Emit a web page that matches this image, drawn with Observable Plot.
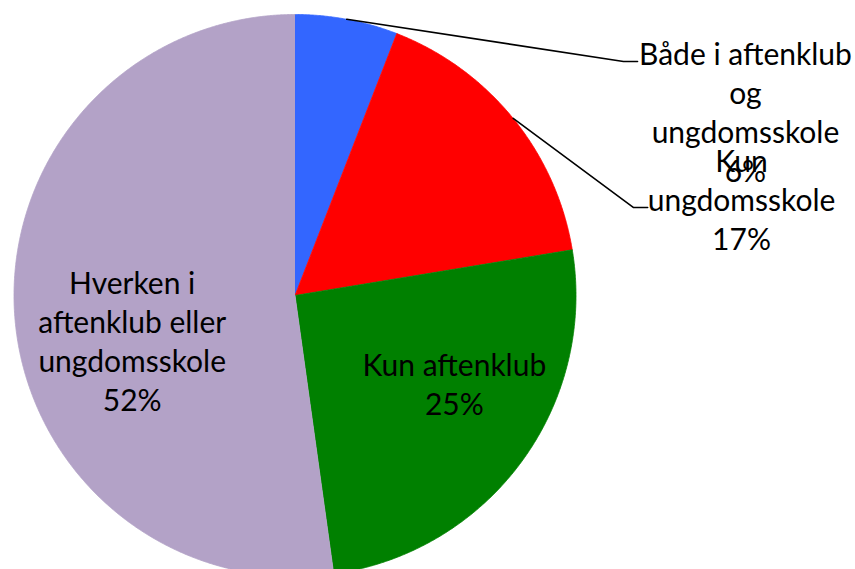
<!DOCTYPE html>
<html><head><meta charset="utf-8">
<script src="https://cdn.jsdelivr.net/npm/d3@7"></script>
<script src="https://cdn.jsdelivr.net/npm/@observablehq/plot@0.6"></script>
<style>html,body{margin:0;padding:0;background:#fff;overflow:hidden}</style>
</head><body><div id="chart"></div>
<script>
// ---- data ----
const categories = [
  "Både i aftenklub og ungdomsskole",
  "Kun ungdomsskole",
  "Kun aftenklub",
  "Hverken i aftenklub eller ungdomsskole"
];
const labelText = [
  "Både i aftenklub\nog\nungdomsskole",
  "Kun\nungdomsskole",
  "Kun aftenklub",
  "Hverken i\naftenklub eller\nungdomsskole"
];
const values = [5.9, 16.5, 25.4, 52.2];
const percentLabels = ["6%", "17%", "25%", "52%"];
const colors = ["#3366FF", "#FF0000", "#008000", "#B3A2C7"];

// ---- layout (not data) ----
const labelLayout = [
  {outside: true, elbow: [1.169, 0.833], label: [1.603, 0.655]},
  {outside: true, elbow: [1.205, 0.313], label: [1.589, 0.345]},
  {outside: false, r: 0.62, dx: 19, dy: -16},
  {outside: false, r: 0.62, dx: 11, dy: 32}
];

const arcs = d3.pie().sort(null).value(d => d)(values);
const slices = [];
arcs.forEach((a, i) => {
  slices.push({cat: categories[i], x: 0, y: 0});
  const n = Math.max(2, Math.ceil((a.endAngle - a.startAngle) / 0.005));
  for (let k = 0; k <= n; k++) {
    const t = a.startAngle + (a.endAngle - a.startAngle) * k / n;
    slices.push({cat: categories[i], x: Math.sin(t), y: Math.cos(t)});
  }
});

const leaders = [];
const outsideText = [];
const insideText = [];
arcs.forEach((a, i) => {
  const mid = (a.startAngle + a.endAngle) / 2;
  const L = labelLayout[i];
  const text = labelText[i] + "\n" + percentLabels[i];
  if (L.outside) {
    leaders.push({cat: categories[i], x: Math.sin(mid), y: Math.cos(mid)});
    leaders.push({cat: categories[i], x: L.elbow[0], y: L.elbow[1]});
    leaders.push({cat: categories[i], x: L.elbow[0] + 0.05, y: L.elbow[1]});
    outsideText.push({text, x: L.label[0], y: L.label[1]});
  } else {
    insideText.push({text, x: Math.sin(mid) * L.r, y: Math.cos(mid) * L.r, dx: L.dx, dy: L.dy});
  }
});

const textStyle = {text: "text", fontFamily: "Lato", fontSize: 30, lineHeight: 1.3, fill: "black", textAnchor: "middle"};

const chart = Plot.plot({
  width: 855, height: 569, margin: 0,
  x: {domain: [-1, 1], range: [13.5, 575.5], axis: null},
  y: {domain: [-1, 1], range: [576, 14], axis: null},
  color: {domain: categories, range: colors},
  marks: [
    Plot.line(slices, {x: "x", y: "y", z: "cat", fill: "cat", stroke: "cat", strokeWidth: 0.8, curve: "linear"}),
    Plot.line(leaders, {x: "x", y: "y", z: "cat", stroke: "black", strokeWidth: 1.6}),
    Plot.text(outsideText, {x: "x", y: "y", ...textStyle}),
    ...insideText.map(d => Plot.text([d], {x: "x", y: "y", dx: d.dx, dy: d.dy, ...textStyle}))
  ]
});
document.getElementById("chart").appendChild(chart);
</script>
</body></html>
